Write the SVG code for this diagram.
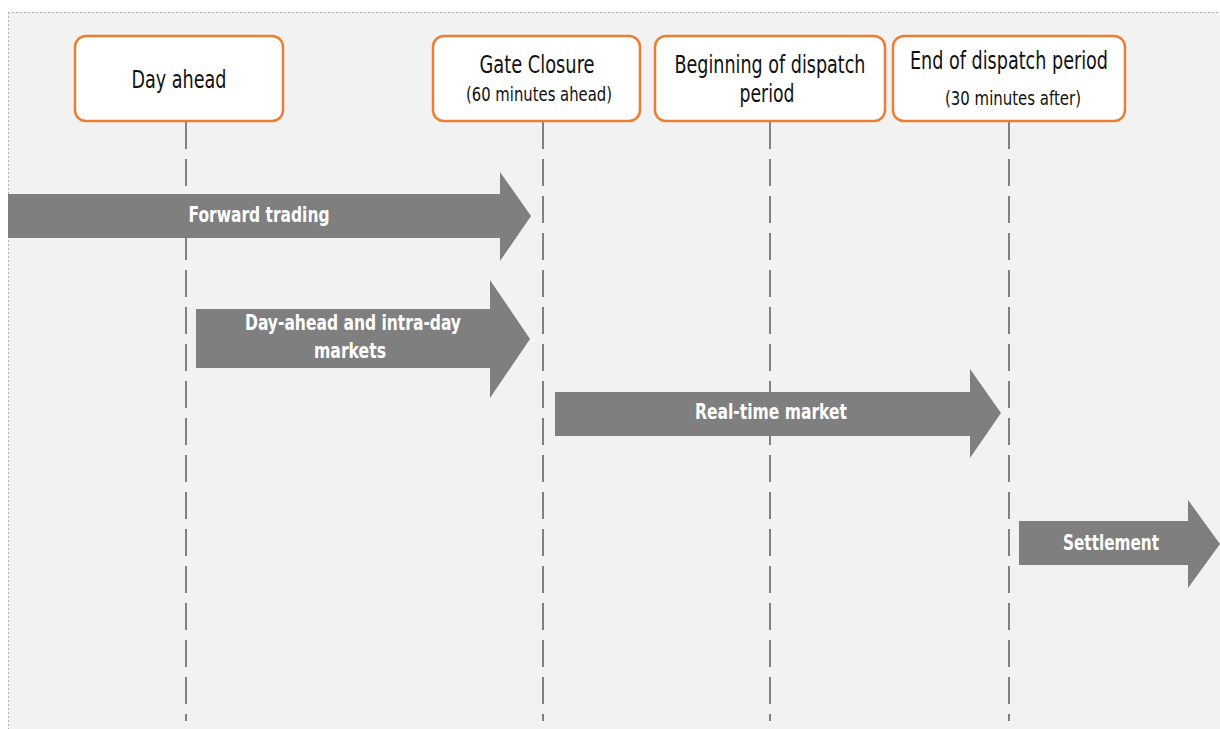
<svg xmlns="http://www.w3.org/2000/svg" width="1220" height="729" viewBox="0 0 1220 729">
<style>
.node rect{fill:#fff;stroke:#ed7d31;stroke-width:2.5}
.lbl{font-family:"Liberation Sans Narrow","DejaVu Sans Condensed","Liberation Sans",sans-serif;fill:#111;text-anchor:middle}
.big{font-size:24px}
.small{font-size:19px}
.dash{stroke:#808080;stroke-width:2;stroke-dasharray:27 10;fill:none}
.arr{fill:#7f7f7f}
.at{font-family:"Liberation Sans Narrow","DejaVu Sans Condensed","Liberation Sans",sans-serif;font-weight:bold;font-size:21px;fill:#fff;text-anchor:middle}
</style>
<rect x="0" y="0" width="1220" height="729" fill="#fff"/>
<rect x="8" y="12" width="1212" height="717" fill="#f2f2f2"/>
<path d="M8 12.5H1220M8.5 12V729" stroke="#b0b0b0" stroke-width="1" stroke-dasharray="2 2" fill="none"/>
<g id="connectors">
<line class="dash" x1="186" y1="122" x2="186" y2="721"/>
<line class="dash" x1="543" y1="122" x2="543" y2="721"/>
<line class="dash" x1="770" y1="122" x2="770" y2="721"/>
<line class="dash" x1="1009" y1="122" x2="1009" y2="721"/>
</g>
<g id="node-day-ahead" class="node">
<rect x="75" y="36" width="208" height="85" rx="11"/>
<text class="lbl big" x="179" y="88" textLength="95" lengthAdjust="spacingAndGlyphs">Day ahead</text>
</g>
<g id="node-gate-closure" class="node">
<rect x="433" y="36" width="207" height="85" rx="11"/>
<text class="lbl big" x="537" y="73" textLength="115" lengthAdjust="spacingAndGlyphs">Gate Closure</text>
<text class="lbl small" x="539" y="101" textLength="146" lengthAdjust="spacingAndGlyphs">(60 minutes ahead)</text>
</g>
<g id="node-beginning" class="node">
<rect x="655" y="36" width="230" height="85" rx="11"/>
<text class="lbl big" x="770" y="73" textLength="191" lengthAdjust="spacingAndGlyphs">Beginning of dispatch</text>
<text class="lbl big" x="767" y="102" textLength="55" lengthAdjust="spacingAndGlyphs">period</text>
</g>
<g id="node-end" class="node">
<rect x="893" y="36" width="232" height="85" rx="11"/>
<text class="lbl big" x="1009" y="69" textLength="198" lengthAdjust="spacingAndGlyphs">End of dispatch period</text>
<text class="lbl small" x="1013" y="105" textLength="136" lengthAdjust="spacingAndGlyphs">(30 minutes after)</text>
</g>
<g id="arrow-forward">
<polygon class="arr" points="8,194 500,194 500,172 531,216 500,261 500,238 8,238"/>
<text class="at" x="259" y="222" textLength="141" lengthAdjust="spacingAndGlyphs">Forward trading</text>
</g>
<g id="arrow-dayahead">
<polygon class="arr" points="196,309 490,309 490,280 530,339 490,398 490,368 196,368"/>
<text class="at" x="353" y="330" textLength="216" lengthAdjust="spacingAndGlyphs">Day-ahead and intra-day</text>
<text class="at" x="350" y="358" textLength="72" lengthAdjust="spacingAndGlyphs">markets</text>
</g>
<g id="arrow-realtime">
<polygon class="arr" points="555,392 970,392 970,369 1001,413 970,458 970,436 555,436"/>
<text class="at" x="771" y="419" textLength="152" lengthAdjust="spacingAndGlyphs">Real-time market</text>
</g>
<g id="arrow-settlement">
<polygon class="arr" points="1019,521 1188,521 1188,500 1220,544 1188,588 1188,565 1019,565"/>
<text class="at" x="1111" y="550" textLength="96" lengthAdjust="spacingAndGlyphs">Settlement</text>
</g>
</svg>
